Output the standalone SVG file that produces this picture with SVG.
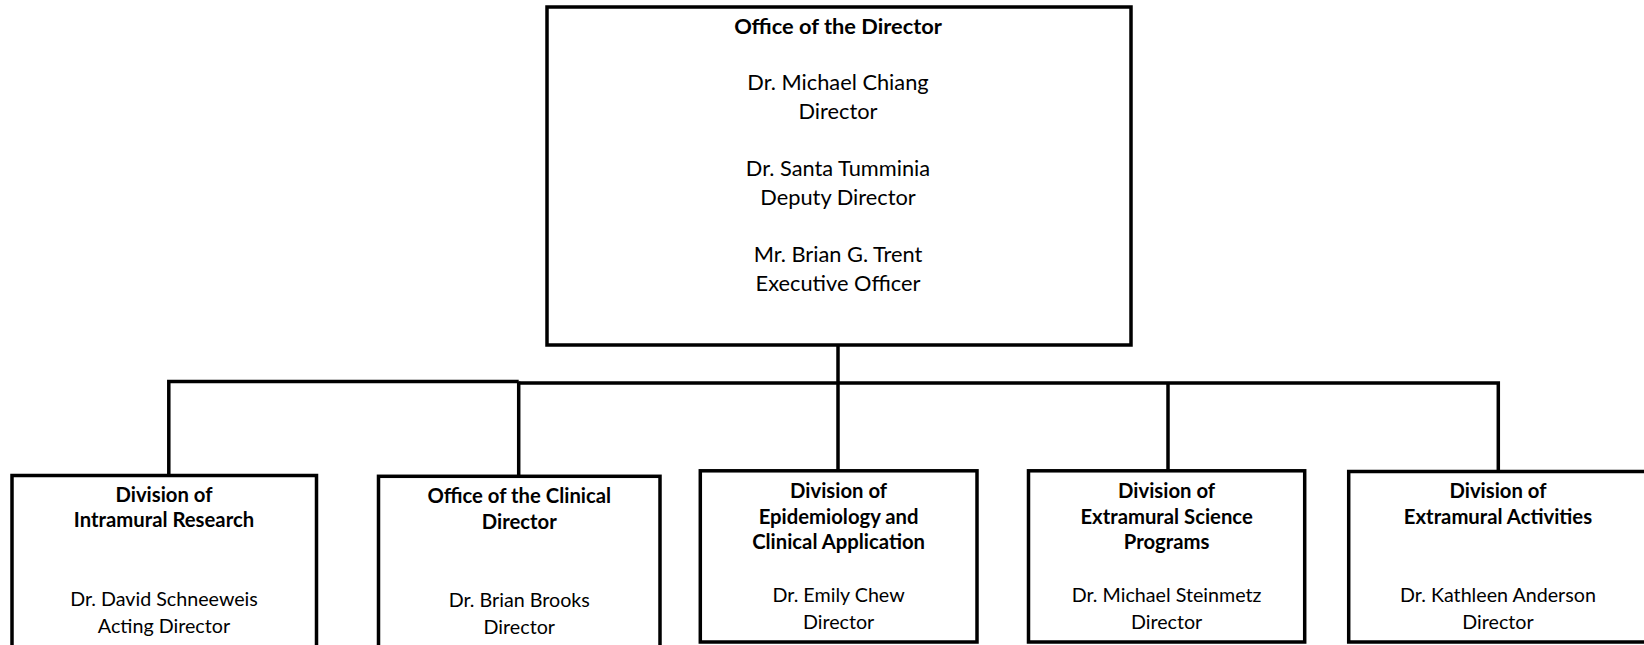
<svg xmlns="http://www.w3.org/2000/svg" width="1644" height="645" viewBox="0 0 1644 645">
<style>
.box{fill:#fff;stroke:#000;stroke-width:3.5}
.con{fill:none;stroke:#000;stroke-width:3.5}
text{font-family:Lato,"Liberation Sans",sans-serif;fill:#000;text-anchor:middle}
.tb{font-size:21.8px;font-weight:bold}
.tr{font-size:21.8px}
.bb{font-size:20.3px;font-weight:bold}
.br{font-size:19.7px}
</style>
<rect width="1644" height="645" fill="#fff"/>
<g id="connectors">
<path class="con" d="M838 345 V471"/>
<path class="con" d="M168.8 475.5 V381.5 H518.7 M518.7 381.5 V476.3"/>
<path class="con" d="M518.7 383 H1498.3 V471.5"/>
<path class="con" d="M1168 383 V471"/>
</g>
<g id="office-director">
<rect class="box" x="547" y="7" width="584" height="338"/>
<text class="tb" x="838" y="34">Office of the Director</text>
<text class="tr" x="838" y="90">Dr. Michael Chiang</text>
<text class="tr" x="838" y="118.5">Director</text>
<text class="tr" x="838" y="176">Dr. Santa Tumminia</text>
<text class="tr" x="838" y="204.5">Deputy Director</text>
<text class="tr" x="838" y="262">Mr. Brian G. Trent</text>
<text class="tr" x="838" y="290.5">Executive Officer</text>
</g>
<g id="intramural">
<rect class="box" x="12" y="475.5" width="304.5" height="200"/>
<text class="bb" x="164" y="502">Division of</text>
<text class="bb" x="164" y="527">Intramural Research</text>
<text class="br" x="164" y="606">Dr. David Schneeweis</text>
<text class="br" x="164" y="633">Acting Director</text>
</g>
<g id="clinical-director">
<rect class="box" x="378.5" y="476.3" width="281.5" height="200"/>
<text class="bb" x="519.3" y="503">Office of the Clinical</text>
<text class="bb" x="519.3" y="529">Director</text>
<text class="br" x="519.3" y="607">Dr. Brian Brooks</text>
<text class="br" x="519.3" y="634">Director</text>
</g>
<g id="epidemiology">
<rect class="box" x="700.3" y="470.8" width="276.7" height="171.2"/>
<text class="bb" x="838.6" y="498">Division of</text>
<text class="bb" x="838.6" y="524">Epidemiology and</text>
<text class="bb" x="838.6" y="549">Clinical Application</text>
<text class="br" x="838.6" y="602">Dr. Emily Chew</text>
<text class="br" x="838.6" y="629">Director</text>
</g>
<g id="extramural-science">
<rect class="box" x="1028.5" y="470.8" width="276.2" height="171.2"/>
<text class="bb" x="1166.6" y="498">Division of</text>
<text class="bb" x="1166.6" y="524">Extramural Science</text>
<text class="bb" x="1166.6" y="549">Programs</text>
<text class="br" x="1166.6" y="602">Dr. Michael Steinmetz</text>
<text class="br" x="1166.6" y="629">Director</text>
</g>
<g id="extramural-activities">
<rect class="box" x="1348.7" y="471.5" width="300" height="170.5"/>
<text class="bb" x="1498" y="498">Division of</text>
<text class="bb" x="1498" y="524">Extramural Activities</text>
<text class="br" x="1498" y="602">Dr. Kathleen Anderson</text>
<text class="br" x="1498" y="629">Director</text>
</g>
</svg>
